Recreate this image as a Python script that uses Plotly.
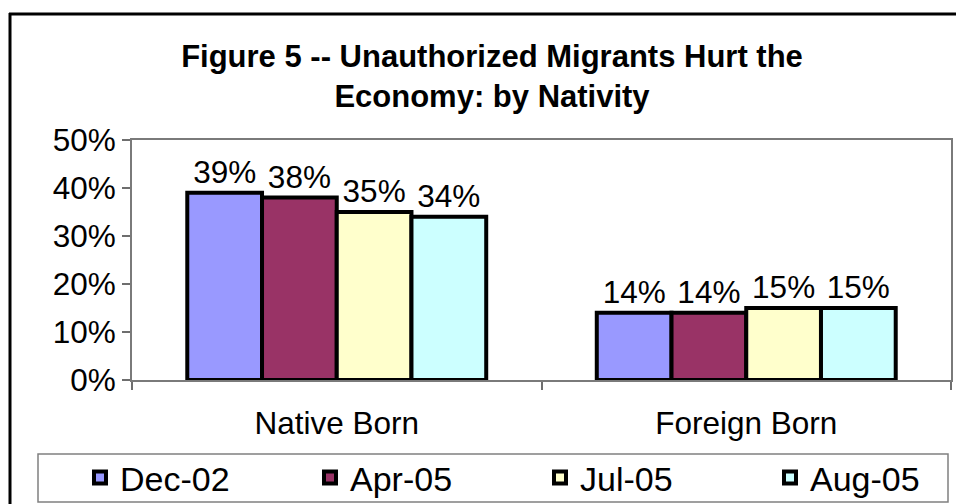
import plotly.graph_objects as go

CATEGORIES = ["Native Born", "Foreign Born"]
SERIES = ["Dec-02", "Apr-05", "Jul-05", "Aug-05"]
VALUES = {
    "Dec-02": [0.39, 0.14],
    "Apr-05": [0.38, 0.14],
    "Jul-05": [0.35, 0.15],
    "Aug-05": [0.34, 0.15],
}
COLORS = {
    "Dec-02": "#9999FF",
    "Apr-05": "#993366",
    "Jul-05": "#FFFFCC",
    "Aug-05": "#CCFFFF",
}
TITLE = "Figure 5 -- Unauthorized Migrants Hurt the<br>Economy: by Nativity"

W, H = 956, 504
L, R, T, B = 132, 5, 140, 124
FONT = "Liberation Sans, Arial, sans-serif"

fig = go.Figure()
for name in SERIES:
    fig.add_trace(
        go.Bar(
            x=CATEGORIES, y=VALUES[name], name=name,
            marker=dict(color=COLORS[name], line=dict(color="black", width=4)),
            texttemplate="%{y:.0%}", textposition="outside", constraintext="none",
            cliponaxis=False, textfont=dict(size=31.5, color="black"),
        )
    )

pw = W - L - R
ph = H - T - B


def px_x(x):
    return (x - L) / pw


def px_y(y):
    return (H - B - y) / ph


fig.update_layout(
    width=W, height=H,
    margin=dict(l=L, r=R, t=T, b=B, autoexpand=False),
    paper_bgcolor="white", plot_bgcolor="white",
    font=dict(family=FONT, size=31, color="black"),
    barmode="group", bargap=0.27, bargroupgap=0,
    title=dict(
        text=TITLE, font=dict(family=FONT, size=31, color="black", weight="bold"),
        xref="container", x=492 / W, xanchor="center",
        yref="container", y=1 - 67 / H, yanchor="top",
    ),
    xaxis=dict(
        showline=True, linecolor="#7a7a7a", linewidth=2, mirror=True,
        ticks="outside", tickson="boundaries", ticklen=8, tickcolor="#6e6e6e", tickwidth=2,
        showgrid=False, tickfont=dict(size=31.5), automargin=False, ticklabelstandoff=14,
    ),
    yaxis=dict(
        range=[0, 0.5], dtick=0.1, tickformat=".0%",
        showline=True, linecolor="#7a7a7a", linewidth=2, mirror=True,
        ticks="outside", ticklen=8, tickcolor="#6e6e6e", tickwidth=2,
        showgrid=False, zeroline=False, tickfont=dict(size=31.5), automargin=False,
    ),
    legend=dict(
        orientation="h", xref="paper", yref="paper",
        x=px_x(80), y=px_y(478), xanchor="left", yanchor="middle",
        entrywidth=185, entrywidthmode="pixels",
        font=dict(size=34), bgcolor="rgba(0,0,0,0)", borderwidth=0,
        itemclick=False,
    ),
    shapes=[
        # legend box
        dict(type="rect", xref="paper", yref="paper",
             x0=px_x(38), x1=px_x(948), y0=px_y(502), y1=px_y(454),
             line=dict(color="#808080", width=1.5), fillcolor="rgba(0,0,0,0)", layer="below"),
        # chart frame: only the top and left edges fall inside the picture
        dict(type="line", xref="paper", yref="paper",
             x0=px_x(9), x1=px_x(W), y0=px_y(14), y1=px_y(14),
             line=dict(color="black", width=3), layer="below"),
        dict(type="line", xref="paper", yref="paper",
             x0=px_x(10), x1=px_x(10), y0=px_y(13), y1=px_y(H),
             line=dict(color="black", width=3), layer="below"),
    ],
)

# drop the browser's default 8px body margin so the figure fills the window
fig.write_html(
    "out.html",
    config=dict(displayModeBar=False),
    post_script=(
        "document.documentElement.style.overflow='hidden';"
        "document.body.style.margin='0';document.body.style.overflow='hidden';"
    ),
)
